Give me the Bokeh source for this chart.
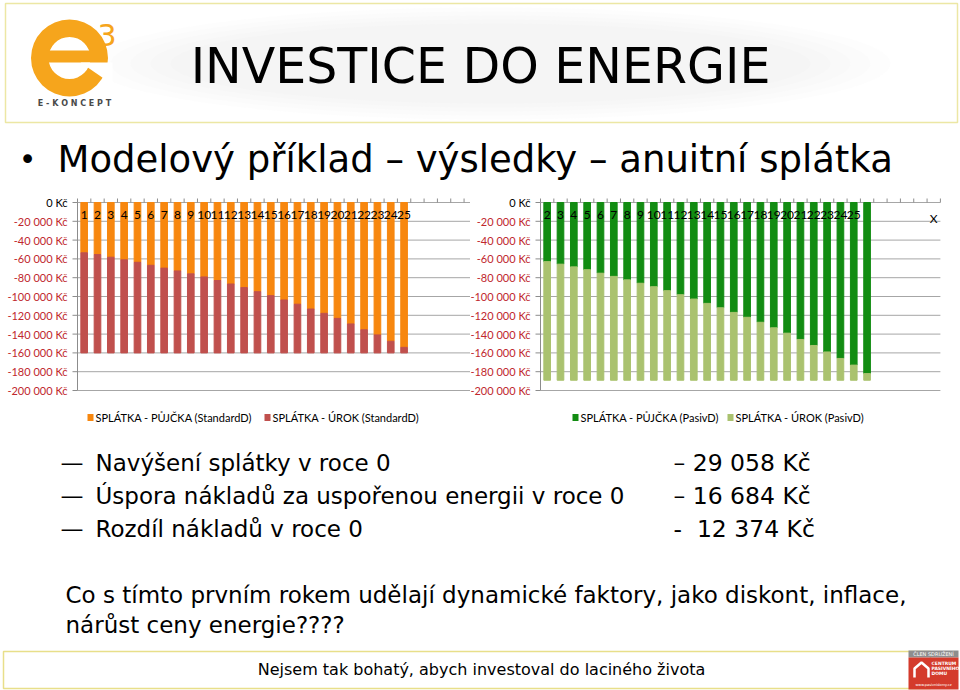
from bokeh.plotting import figure
from bokeh.layouts import column, row
from bokeh.models import Range1d, ColumnDataSource
from bokeh.core.properties import value
from bokeh.embed import file_html
from bokeh.resources import INLINE

# ---------------- data ----------------
left_principal = [53500, 55400, 58200, 61000, 63600, 66800, 69800, 72800, 75900, 79200,
                  83000, 86700, 90500, 94900, 99100, 103700, 108200, 113300, 117900, 123300,
                  129200, 135400, 140900, 147600, 154100]
left_interest = [106500, 104600, 101800, 99000, 96400, 93200, 90200, 87200, 84100, 80800,
                 77000, 73300, 69500, 65100, 60900, 56300, 51800, 46700, 42100, 36700,
                 30800, 24600, 19100, 12400, 5900]
right_principal = [62900, 65600, 68500, 71500, 75200, 78600, 82300, 85900, 89600, 93800,
                   98100, 102700, 107300, 112000, 116900, 122100, 127400, 133300, 139000, 145700,
                   152100, 159000, 165900, 173000, 182000]
right_interest = [126200, 123500, 120600, 117600, 113900, 110500, 106800, 103200, 99500, 95300,
                  91000, 86400, 81800, 77100, 72200, 67000, 61700, 55800, 50100, 43400,
                  37000, 30100, 23200, 16100, 7100]
left_cat_labels = [str(i) for i in range(1, 26)]
right_cat_labels = [str(i) for i in range(2, 26)] + ["", "", "", "", "", "X"]
y_ticks = [0, -20000, -40000, -60000, -80000, -100000, -120000, -140000, -160000, -180000, -200000]
y_tick_labels = ["0 Kč", "-20 000 Kč", "-40 000 Kč", "-60 000 Kč", "-80 000 Kč", "-100 000 Kč",
                 "-120 000 Kč", "-140 000 Kč", "-160 000 Kč", "-180 000 Kč", "-200 000 Kč"]
legend_left = ["SPLÁTKA - PŮJČKA (StandardD)", "SPLÁTKA - ÚROK (StandardD)"]
legend_right = ["SPLÁTKA - PŮJČKA (PasivD)", "SPLÁTKA - ÚROK (PasivD)"]
summary_items = ["Navýšení splátky v roce 0",
                 "Úspora nákladů za uspořenou energii v roce 0",
                 "Rozdíl nákladů v roce 0"]
summary_values = ["– 29 058 Kč", "– 16 684 Kč", "- \u00a012 374 Kč"]

ORANGE = "#f7870f"
RED = "#c0504d"
DGREEN = "#128c12"
LGREEN = "#aac26f"
AXIS_RED = "#c0272d"
GRID = "#a6a6a6"
AXIS = "#8c8c8c"
SANS = "DejaVu Sans"
CHART_FONT = "Lato"
LOGO = "#f6a51c"


def blank(width, height):
    p = figure(width=width, height=height, x_range=Range1d(0, width), y_range=Range1d(height, 0),
               output_backend="svg", toolbar_location=None, min_border=0)
    p.axis.visible = False
    p.grid.visible = False
    p.outline_line_color = None
    return p


def make_chart(width, axis_px, grid_end, principal, interest, cat_labels, c_top, c_bot):
    # layout: 13.33 px per category, 188 px for 200 000 Kč, value 0 at 17 px from top
    sx = 13.33
    py = 200000 / 188.0
    px = 1.0 / sx
    p = figure(width=width, height=215,
               x_range=Range1d(0.5 - axis_px * px, 0.5 + (width - axis_px) * px),
               y_range=Range1d(y_ticks[-1] - 10 * py, y_ticks[0] + 17 * py),
               output_backend="svg", toolbar_location=None, min_border=0)
    p.axis.visible = False
    p.grid.visible = False
    p.outline_line_color = None
    nt = len(y_ticks)
    # horizontal grid lines
    p.segment(x0=[0.5] * nt, x1=[grid_end] * nt, y0=y_ticks, y1=y_ticks, line_color=GRID, line_width=1)
    # value axis: line, ticks and labels
    p.segment(x0=[0.5], x1=[0.5], y0=[y_ticks[0]], y1=[y_ticks[-1]], line_color=AXIS, line_width=1)
    p.segment(x0=[0.5 - 5 * px] * nt, x1=[0.5] * nt, y0=y_ticks, y1=y_ticks, line_color=AXIS, line_width=1)
    p.text(x=[0.5] * nt, y=y_ticks, text=y_tick_labels, x_offset=-10, text_align="right",
           text_baseline="middle", text_font=value(CHART_FONT), text_font_size="11px",
           text_color=["black"] + [AXIS_RED] * (nt - 1))
    # category axis along 0: tick marks on category edges
    edges = [i + 0.5 for i in range(0, 31) if i + 0.5 <= grid_end + 0.01]
    p.segment(x0=edges, x1=edges, y0=[0] * len(edges), y1=[4 * py] * len(edges), line_color=AXIS, line_width=1)
    # stacked bars
    n = len(principal)
    src = ColumnDataSource(dict(
        x=list(range(1, n + 1)),
        pb=[-v for v in principal],
        ib=[-(a + b) for a, b in zip(principal, interest)],
    ))
    p.vbar(x="x", top=0, bottom="pb", width=0.5, source=src, fill_color=c_top, line_color=c_top)
    p.vbar(x="x", top="pb", bottom="ib", width=0.5, source=src, fill_color=c_bot, line_color=c_bot)
    # category labels
    lab = [(i + 1, t) for i, t in enumerate(cat_labels) if t]
    p.text(x=[a for a, _ in lab], y=[0] * len(lab), text=[b for _, b in lab], text_align="center",
           text_baseline="top", y_offset=8, text_font=value(CHART_FONT), text_font_size="12px",
           text_color="black")
    return p


# ---------------- header ----------------
head = blank(960, 185)
head.quad(left=5, right=957, top=3, bottom=122, fill_color="white", line_color="#ece7a4", line_width=1.5)
for w, h in [(800, 112), (760, 104), (720, 96), (680, 88), (640, 80)]:
    head.ellipse(x=490, y=63, width=w, height=h, fill_color="#d0d0d0", fill_alpha=0.035, line_color=None)
# logo "e" drawn as a ring with a cross bar and an opening on the lower right
head.annulus(x=69, y=57.5, inner_radius=21, outer_radius=38.5, fill_color=LOGO, line_color=None)
head.quad(left=47, right=92, top=50, bottom=62, fill_color=LOGO, line_color=None)
head.patch(x=[80, 112, 112], y=[62, 62, 84], fill_color="white", line_color=None)
head.text(x=[97], y=[34], text=["3"], text_font=value(SANS), text_font_size="30px",
          text_color=LOGO, text_baseline="middle")
head.text(x=[74], y=[103], text=["E - K O N C E P T"], text_font=value(SANS), text_font_size="8px",
          text_color="#4a4a4a", text_align="center", text_baseline="middle", text_font_style="bold")
head.text(x=[480], y=[66], text=["INVESTICE DO ENERGIE"], text_font=value(SANS), text_font_size="49px",
          text_color="black", text_align="center", text_baseline="middle")
head.text(x=[27], y=[159], text=["•"], text_font=value(SANS), text_font_size="30px",
          text_color="black", text_align="center", text_baseline="middle")
head.text(x=[57], y=[159], text=["Modelový příklad – výsledky – anuitní splátka"], text_font=value(SANS),
          text_font_size="37px", text_color="black", text_baseline="middle")

# ---------------- charts ----------------
left = make_chart(470, 77, 29.98, left_principal, left_interest, left_cat_labels, ORANGE, RED)
right = make_chart(490, 70, 30.5, right_principal, right_interest, right_cat_labels, DGREEN, LGREEN)

# ---------------- lower part ----------------
low = blank(960, 290)
leg_x = [90, 267, 575, 730]
leg_c = [ORANGE, RED, DGREEN, LGREEN]
leg_t = legend_left + legend_right
low.rect(x=leg_x, y=[17] * 4, width=6, height=7, fill_color=leg_c, line_color=None)
low.text(x=[v + 5 for v in leg_x], y=[17] * 4, text=leg_t, text_font=value(CHART_FONT),
         text_font_size="11px", text_color="black", text_baseline="middle")
ys = [62, 95, 128]
low.text(x=[60] * 3, y=ys, text=["—"] * 3, text_font=value(SANS), text_font_size="23px",
         text_color="black", text_baseline="middle")
low.text(x=[95] * 3, y=ys, text=summary_items, text_font=value(SANS), text_font_size="23px",
         text_color="black", text_baseline="middle")
low.text(x=[673] * 3, y=ys, text=summary_values, text_font=value(SANS), text_font_size="23.5px",
         text_color="black", text_baseline="middle")
low.text(x=[65, 65], y=[194, 224],
         text=["Co s tímto prvním rokem udělají dynamické faktory, jako diskont, inflace,",
               "nárůst ceny energie????"],
         text_font=value(SANS), text_font_size="23px", text_color="black", text_baseline="middle")
# footer
low.quad(left=3, right=930, top=251, bottom=288, fill_color="white", line_color="#e8df8a", line_width=1.5)
low.text(x=[481], y=[269], text=["Nejsem tak bohatý, abych investoval do laciného života"],
         text_font=value(SANS), text_font_size="16px", text_color="black",
         text_align="center", text_baseline="middle")
low.quad(left=908, right=958, top=250, bottom=257, fill_color="#8e8e8e", line_color=None)
low.quad(left=908, right=958, top=257, bottom=289, fill_color="#d43b2c", line_color=None)
low.text(x=[933], y=[253.5], text=["ČLEN SDRUŽENÍ"], text_font=value(SANS), text_font_size="5px",
         text_color="white", text_align="center", text_baseline="middle")
low.line(x=[914, 914, 921, 928, 928], y=[277, 268, 262, 268, 277], line_color="white", line_width=2.5)
low.text(x=[931, 931, 931], y=[263, 268, 273], text=["CENTRUM", "PASIVNÍHO", "DOMU"],
         text_font=value(SANS), text_font_size="4.5px", text_color="white", text_baseline="middle",
         text_font_style="bold")
low.text(x=[933], y=[284], text=["www.pasivnidomy.cz"], text_font=value(SANS), text_font_size="3.5px",
         text_color="white", text_align="center", text_baseline="middle")

page = column(head, row(left, right, spacing=0), low, spacing=0)
open("out.html", "w").write(file_html(page, INLINE))
